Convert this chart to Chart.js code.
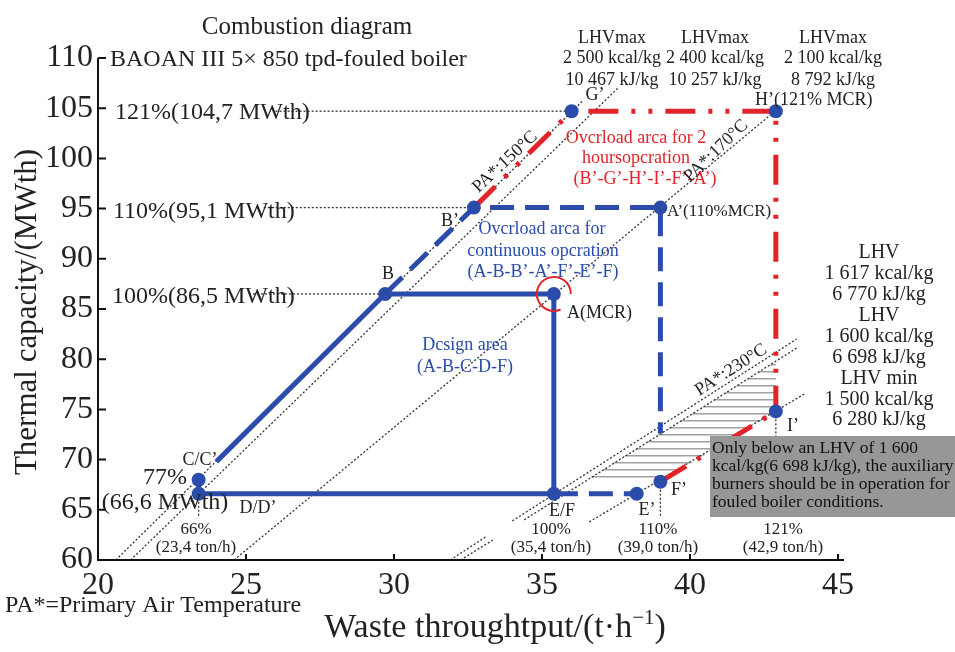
<!DOCTYPE html>
<html>
<head>
<meta charset="utf-8">
<script src="https://cdn.jsdelivr.net/npm/chart.js@4.4.0/dist/chart.umd.min.js"></script>
<style>
  html, body { margin: 0; padding: 0; background: #fff; }
  #wrap { width: 955px; height: 652px; }
</style>
</head>
<body>
<div id="wrap"><canvas id="chart" width="955" height="652"></canvas></div>
<script>
// axis ticks
const xTicks = [20, 25, 30, 35, 40, 45];
const yTicks = [60, 65, 70, 75, 80, 85, 90, 95, 100, 105, 110];

// operating points [waste t/h, MWth]
const ptA = [35.4, 86.5];
const ptB = [29.7, 86.5];
const ptC = [23.4, 68.0];
const ptD = [23.4, 66.6];
const ptEF = [35.4, 66.6];
const ptB2 = [32.7, 95.1];
const ptA2 = [39.0, 95.1];
const ptG2 = [36.0, 104.7];
const ptH2 = [42.9, 104.7];
const ptI2 = [42.9, 74.8];
const ptF2 = [39.0, 67.8];
const ptE2 = [38.2, 66.6];

// ends of the thick boundary lines
const designStart = [24.0, 69.8];
const overloadEnd = [39.0, 72.6];

// constant LHV lines (dotted)
const lhv2500 = [[20.6, 60], [36.4, 105.8]];
const lhv2400 = [[21.1, 60], [37.6, 107.1]];
const lhv2100 = [[24.6, 60], [43.2, 105.5]];
const lhv1617a = [[31.9, 60], [33.1, 62.3]];
const lhv1617b = [[34.0, 63.9], [43.6, 82.0]];
const lhv1600a = [[32.25, 60], [33.4, 62.1]];
const lhv1600b = [[34.4, 64.0], [43.6, 81.1]];
const lhv1500 = [[36.6, 63.8], [43.9, 76.6]];

// reference lines to the load labels
const ref121 = [[26.0, 104.7], ptG2];
const ref110 = [[25.6, 95.1], ptB2];
const ref100 = [[25.1, 86.5], ptB];
const refD = [ptD, [23.4, 64.2]];
const refF2 = [ptF2, [39.0, 64.3]];
const refI2 = [ptI2, [42.9, 72.0]];

// hatched zone where auxiliary burners run
const hatchArea = [[36.4, 67.8], [39.0, 67.8], [42.9, 74.8], [42.9, 79.8]];

const BLUE = '#2b4caa';
const RED = '#e3232a';
const DOT = '#333333';
const SERIF = 'Liberation Serif';

const xy = arr => arr.map(p => ({ x: p[0], y: p[1] }));

function dotted(data) {
    return {
        data: xy(data), showLine: true, borderColor: DOT, borderWidth: 1.3,
        borderDash: [2, 2], pointRadius: 0, tension: 0, fill: false
    };
}

// horizontal line pattern for the hatch
const patCanvas = document.createElement('canvas');
patCanvas.width = 4;
patCanvas.height = 7;
const pctx = patCanvas.getContext('2d');
pctx.fillStyle = '#a0a0a0';
pctx.fillRect(0, 0, 4, 1.5);

function txt(ctx, s, x, y, font, color, align, rot) {
    ctx.save();
    ctx.font = font;
    ctx.fillStyle = color || '#222';
    ctx.textAlign = align || 'center';
    ctx.textBaseline = 'middle';
    ctx.translate(x, y);
    if (rot) ctx.rotate(rot * Math.PI / 180);
    ctx.fillText(s, 0, 0);
    ctx.restore();
}

const extras = {
    id: 'extras',
    beforeDatasetsDraw(chart) {
        const { ctx, scales: { x, y } } = chart;
        ctx.save();
        ctx.beginPath();
        hatchArea.forEach((p, i) => {
            const px = x.getPixelForValue(p[0]), py = y.getPixelForValue(p[1]);
            if (i === 0) ctx.moveTo(px, py); else ctx.lineTo(px, py);
        });
        ctx.closePath();
        ctx.fillStyle = ctx.createPattern(patCanvas, 'repeat');
        ctx.fill();
        ctx.restore();
    },
    afterDatasetsDraw(chart) {
        const { ctx, chartArea: ca, scales: { x, y } } = chart;

        // axes with inward ticks
        ctx.save();
        ctx.strokeStyle = '#111';
        ctx.lineWidth = 2;
        ctx.beginPath();
        ctx.moveTo(ca.left, ca.top);
        ctx.lineTo(ca.left, ca.bottom);
        ctx.lineTo(ca.right + 6, ca.bottom);
        yTicks.forEach(v => {
            const py = y.getPixelForValue(v);
            ctx.moveTo(ca.left, py);
            ctx.lineTo(ca.left + 8, py);
        });
        xTicks.forEach(v => {
            const px = x.getPixelForValue(v);
            ctx.moveTo(px, ca.bottom);
            ctx.lineTo(px, ca.bottom - 6);
        });
        ctx.stroke();
        ctx.restore();

        // red ring around A
        const ax = x.getPixelForValue(ptA[0]), ay = y.getPixelForValue(ptA[1]);
        ctx.save();
        ctx.strokeStyle = RED;
        ctx.lineWidth = 2;
        ctx.beginPath();
        ctx.arc(ax, ay, 17, 0.37 * Math.PI, 2 * Math.PI);
        ctx.stroke();
        ctx.restore();

        const f18 = '18px "' + SERIF + '"';
        const f17 = '17px "' + SERIF + '"';
        const f24 = '24px "' + SERIF + '"';

        // titles
        txt(ctx, 'Combustion diagram', 307, 27, '25px "' + SERIF + '"');
        txt(ctx, 'BAOAN III 5\u00d7 850 tpd-fouled boiler', 110, 60, f24, '#222', 'left');
        txt(ctx, 'Thermal capacity/(MWth)', 28, 312, '31px "' + SERIF + '"', '#222', 'center', -90);
        txt(ctx, 'PA*=Primary Air Temperature', 5, 606, f24, '#222', 'left');

        // x axis title with superscript
        const mainF = '34px "' + SERIF + '"', supF = '21px "' + SERIF + '"';
        const p1 = 'Waste throughtput/(t\u00b7h', p2 = '\u22121', p3 = ')';
        ctx.save();
        ctx.font = mainF; const w1 = ctx.measureText(p1).width, w3 = ctx.measureText(p3).width;
        ctx.font = supF; const w2 = ctx.measureText(p2).width;
        ctx.restore();
        let sx = 495 - (w1 + w2 + w3) / 2;
        txt(ctx, p1, sx, 628, mainF, '#222', 'left'); sx += w1;
        txt(ctx, p2, sx, 618, supF, '#222', 'left'); sx += w2;
        txt(ctx, p3, sx, 628, mainF, '#222', 'left');

        // load labels on the left
        txt(ctx, '121%(104,7 MWth)', 115, 113, f24, '#222', 'left');
        txt(ctx, '110%(95,1 MWth)', 113, 212, f24, '#222', 'left');
        txt(ctx, '100%(86,5 MWth)', 112, 297, f24, '#222', 'left');
        txt(ctx, '77%', 165, 478, f24);
        txt(ctx, '(66,6 MWth)', 165, 503, f24);

        // LHV max headers
        [[612, 'LHVmax', '2 500 kcal/kg', '10 467 kJ/kg'],
         [715, 'LHVmax', '2 400 kcal/kg', '10 257 kJ/kg'],
         [833, 'LHVmax', '2 100 kcal/kg', '8 792 kJ/kg']].forEach(b => {
            txt(ctx, b[1], b[0], 38, f18);
            txt(ctx, b[2], b[0], 58, f18);
            txt(ctx, b[3], b[0], 80, f18);
        });

        // LHV labels on the right
        ['LHV', '1 617 kcal/kg', '6 770 kJ/kg', 'LHV', '1 600 kcal/kg', '6 698 kJ/kg',
         'LHV min', '1 500 kcal/kg', '6 280 kJ/kg'].forEach((s, i) => {
            txt(ctx, s, 879, 253 + i * 20.9, '20px "' + SERIF + '"');
        });

        // point labels
        txt(ctx, 'B', 388, 274, f18);
        txt(ctx, 'B\u2019', 450, 221, f18);
        txt(ctx, 'A(MCR)', 567, 313, f18, '#222', 'left');
        txt(ctx, 'A\u2019(110%MCR)', 667, 212, f17, '#222', 'left');
        txt(ctx, 'G\u2019', 595, 95, f18);
        txt(ctx, 'H\u2019(121% MCR)', 755, 100, f18, '#222', 'left');
        txt(ctx, 'I\u2019', 793, 426, f18);
        txt(ctx, 'C/C\u2019', 200, 460, f18);
        txt(ctx, 'D/D\u2019', 258, 508, f18);
        txt(ctx, 'E/F', 562, 511, f18);
        txt(ctx, 'E\u2019', 647, 510, f18);
        txt(ctx, 'F\u2019', 679, 490, f18);

        // throughput labels
        [[196, '66%', '(23,4 ton/h)'], [551, '100%', '(35,4 ton/h)'],
         [658, '110%', '(39,0 ton/h)'], [783, '121%', '(42,9 ton/h)']].forEach(b => {
            txt(ctx, b[1], b[0], 530, f17);
            txt(ctx, b[2], b[0], 548, f17);
        });

        // area descriptions
        txt(ctx, 'Ovcrload arca for', 542, 229, f18, BLUE);
        txt(ctx, 'continuous opcration', 543, 251, f18, BLUE);
        txt(ctx, '(A-B-B\u2019-A\u2019-F\u2019-E\u2019-F)', 543, 272, f18, BLUE);
        txt(ctx, 'Dcsign area', 465, 345, f18, BLUE);
        txt(ctx, '(A-B-C-D-F)', 465, 367, f18, BLUE);
        txt(ctx, 'Ovcrload arca for 2', 636, 138, f18, RED);
        txt(ctx, 'hoursopcration', 636, 158, f18, RED);
        txt(ctx, '(B\u2019-G\u2019-H\u2019-I\u2019-F\u2019-A\u2019)', 645, 179, f18, RED);

        // primary air temperatures
        txt(ctx, 'PA*:150\u00b0C', 505, 162, f18, '#222', 'center', -43);
        txt(ctx, 'PA*:170\u00b0C', 716, 151, f18, '#222', 'center', -44);
        txt(ctx, 'PA*:230\u00b0C', 731, 370, f18, '#222', 'center', -32.5);

        // note box
        ctx.save();
        ctx.fillStyle = '#979797';
        ctx.fillRect(710, 436, 245, 81);
        ctx.restore();
        ['Only below an LHV of 1 600', 'kcal/kg(6 698 kJ/kg), the auxiliary',
         'burners should be in operation for', 'fouled boiler conditions.'].forEach((s, i) => {
            txt(ctx, s, 712, 448 + i * 18.2, '17.5px "' + SERIF + '"', '#111', 'left');
        });
    }
};

new Chart(document.getElementById('chart'), {
    type: 'scatter',
    data: {
        datasets: [
            {
                data: xy([ptB, ptA, ptEF, ptB2, ptA2, ptG2, ptH2, ptI2, ptF2, ptE2, ptC, ptD]),
                pointRadius: 7, pointBackgroundColor: BLUE, pointBorderWidth: 0, showLine: false
            },
            {
                data: xy([designStart, ptB, ptA, ptEF, ptD, ptC]),
                showLine: true, borderColor: BLUE, borderWidth: 5, pointRadius: 0, tension: 0
            },
            {
                data: xy([ptB, ptB2, ptA2, overloadEnd]),
                showLine: true, borderColor: BLUE, borderWidth: 5, borderDash: [24, 11], pointRadius: 0, tension: 0
            },
            {
                data: xy([ptEF, ptE2]),
                showLine: true, borderColor: BLUE, borderWidth: 5, borderDash: [24, 11], pointRadius: 0, tension: 0
            },
            {
                data: xy([ptB2, ptG2, ptH2, ptI2]),
                showLine: true, borderColor: RED, borderWidth: 5, borderDash: [30, 13, 4, 13, 4, 13], pointRadius: 0, tension: 0
            },
            {
                data: xy([ptF2, ptI2]),
                showLine: true, borderColor: RED, borderWidth: 5, borderDash: [30, 13, 4, 13, 4, 13], pointRadius: 0, tension: 0
            },
            dotted(lhv2500), dotted(lhv2400), dotted(lhv2100),
            dotted(lhv1617a), dotted(lhv1617b), dotted(lhv1600a), dotted(lhv1600b), dotted(lhv1500),
            dotted(ref121), dotted(ref110), dotted(ref100), dotted(refD), dotted(refF2), dotted(refI2)
        ]
    },
    options: {
        responsive: false,
        animation: false,
        layout: { padding: { top: 58, right: 117, left: 0, bottom: 0 } },
        plugins: { legend: { display: false }, tooltip: { enabled: false } },
        scales: {
            x: {
                type: 'linear', min: 20, max: 45,
                afterBuildTicks: s => { s.ticks = xTicks.map(v => ({ value: v })); },
                afterFit: s => { s.height = 92; },
                grid: { display: false, drawTicks: false },
                border: { display: false },
                ticks: { font: { family: SERIF, size: 32 }, color: '#222', padding: 6 }
            },
            y: {
                type: 'linear', min: 60, max: 110,
                afterBuildTicks: s => { s.ticks = yTicks.map(v => ({ value: v })); },
                afterFit: s => { s.width = 98; },
                grid: { display: false, drawTicks: false },
                border: { display: false },
                ticks: { font: { family: SERIF, size: 32 }, color: '#222', padding: 5 }
            }
        }
    },
    plugins: [extras]
});
</script>
</body>
</html>
